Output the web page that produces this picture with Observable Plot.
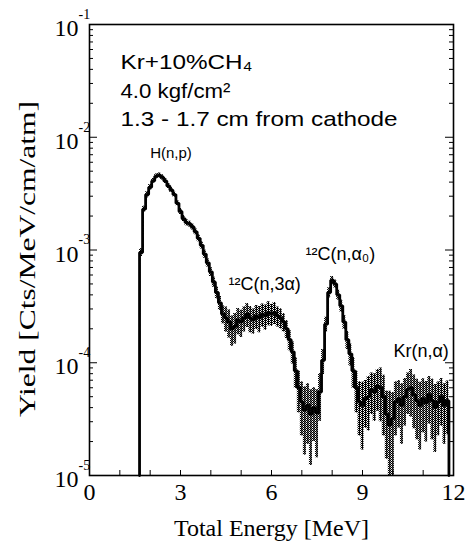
<!DOCTYPE html>
<html><head><meta charset="utf-8">
<script src="https://cdn.jsdelivr.net/npm/d3@7"></script>
<script src="https://cdn.jsdelivr.net/npm/@observablehq/plot@0.6"></script>
<style>body{margin:0;background:#fff} #chart svg{display:block}</style>
</head><body><div id="chart"></div>
<script>
// ---- data ----
const binCenters = [
  1.7,1.8,1.9,2.0,2.1,2.2,2.3,2.4,2.5,2.6,
  2.7,2.8,2.9,3.0,3.1,3.2,3.3,3.4,3.5,3.6,
  3.7,3.8,3.9,4.0,4.1,4.2,4.3,4.4,4.5,4.6,
  4.7,4.8,4.9,5.0,5.1,5.2,5.3,5.4,5.5,5.6,
  5.7,5.8,5.9,6.0,6.1,6.2,6.3,6.4,6.5,6.6,
  6.7,6.8,6.9,7.0,7.1,7.2,7.3,7.4,7.5,7.6,
  7.7,7.8,7.9,8.0,8.1,8.2,8.3,8.4,8.5,8.6,
  8.7,8.8,8.9,9.0,9.1,9.2,9.3,9.4,9.5,9.6,
  9.7,9.8,9.9,10.0,10.1,10.2,10.3,10.4,10.5,10.6,
  10.7,10.8,10.9,11.0,11.1,11.2,11.3,11.4,11.5,11.6,
  11.7,11.8];
const yieldValues = [
  9.5e-4,2.3e-3,3.1e-3,3.6e-3,4.1e-3,4.5e-3,4.6e-3,4.4e-3,4.1e-3,3.7e-3,
  3.4e-3,3.1e-3,2.6e-3,2.2e-3,1.9e-3,1.75e-3,1.7e-3,1.6e-3,1.45e-3,1.27e-3,
  1.1e-3,9.2e-4,7.7e-4,6.4e-4,5.2e-4,4.2e-4,3.4e-4,2.7e-4,2.5e-4,2.3e-4,
  2.0e-4,2.1e-4,2.4e-4,2.3e-4,2.5e-4,2.7e-4,2.5e-4,2.4e-4,2.6e-4,2.5e-4,
  2.7e-4,2.6e-4,2.8e-4,2.7e-4,2.8e-4,2.6e-4,2.5e-4,2.3e-4,2.0e-4,1.6e-4,
  1.25e-4,8.5e-5,6.0e-5,4.5e-5,3.8e-5,4.2e-5,3.5e-5,4.0e-5,3.6e-5,5.5e-5,
  1.05e-4,2.2e-4,4.2e-4,5.4e-4,5.0e-4,4.0e-4,3.2e-4,2.3e-4,1.6e-4,1.2e-4,
  8.5e-5,6.0e-5,4.5e-5,4.2e-5,4.8e-5,5.0e-5,5.8e-5,5.5e-5,6.2e-5,6.0e-5,
  5.0e-5,3.5e-5,2.8e-5,3.2e-5,4.5e-5,4.8e-5,4.2e-5,5.0e-5,5.8e-5,6.0e-5,
  5.2e-5,4.6e-5,4.2e-5,4.8e-5,4.4e-5,5.2e-5,4.6e-5,4.0e-5,4.5e-5,5.0e-5,
  4.2e-5,4.6e-5];
const relErrors = [
  0.08,0.06,0.06,0.06,0.05,0.05,0.05,0.05,0.05,0.05,
  0.05,0.05,0.05,0.06,0.06,0.06,0.06,0.06,0.06,0.07,
  0.07,0.08,0.08,0.09,0.10,0.12,0.14,0.18,0.25,0.28,
  0.30,0.30,0.26,0.27,0.25,0.24,0.26,0.25,0.24,0.26,
  0.23,0.25,0.24,0.22,0.22,0.20,0.20,0.18,0.18,0.20,
  0.22,0.30,0.40,0.50,0.60,0.55,0.65,0.50,0.60,0.45,
  0.25,0.15,0.10,0.08,0.08,0.10,0.12,0.14,0.18,0.22,
  0.30,0.40,0.50,0.60,0.45,0.50,0.40,0.45,0.40,0.50,
  0.55,0.60,1.00,0.70,0.50,0.45,0.55,0.45,0.40,0.45,
  0.50,0.55,0.60,0.50,0.55,0.45,0.55,0.60,0.50,0.45,
  0.55,0.50];
const binWidth = 0.1;
const xTickValues = [0,1,2,3,4,5,6,7,8,9,10,11,12];
const xTickLabels = [0,3,6,9,12];
const yDecades = [1e-5,1e-4,1e-3,1e-2,1e-1];
const yExponents = ["-5","-4","-3","-2","-1"];
const minorMultipliers = [2,3,4,5,6,7,8,9];
const infoLines = ["Kr+10%CH₄","4.0 kgf/cm²","1.3 - 1.7 cm from cathode"];
const peakLabels = ["H(n,p)","¹²C(n,3α)","¹²C(n,α₀)","Kr(n,α)"];
const peakLabelEnergy = [2.0, 4.58, 7.12, 10.02];
const peakLabelYield = [6.6e-3, 4.4e-4, 8.2e-4, 1.12e-4];
const xLabel = "Total Energy [MeV]";
const yLabel = "Yield [Cts/MeV/cm/atm]";

// ---- build ----
const yFloor = yDecades[0];
const bins = binCenters.map((e, i) => ({
  e, v: yieldValues[i],
  lo: Math.max(yFloor, yieldValues[i] * (1 - relErrors[i])),
  hi: yieldValues[i] * (1 + relErrors[i])
}));
const steps = [{x: bins[0].e - binWidth / 2, y: yFloor}];
for (const b of bins) {
  steps.push({x: b.e - binWidth / 2, y: b.v, lo: b.lo, hi: b.hi});
  steps.push({x: b.e + binWidth / 2, y: b.v, lo: b.lo, hi: b.hi});
}
steps.push({x: bins[bins.length - 1].e + binWidth / 2, y: yFloor});
const band = steps.filter(d => d.lo !== undefined);
const minorTicks = yDecades.slice(0, -1).flatMap(d => minorMultipliers.map(m => d * m));
const peaks = peakLabels.map((t, i) => ({t, e: peakLabelEnergy[i], y: peakLabelYield[i]}));

const serif = "Liberation Serif, Times New Roman, serif";
const sans = "Liberation Sans, Arial, Helvetica, sans-serif";
const infoBaselines = [44, 73, 101];   // px below the frame top
const infoWidths = [132, 110, 277];    // rendered widths in px

const chart = Plot.plot({
  width: 472, height: 545,
  marginLeft: 89, marginRight: 19, marginTop: 24, marginBottom: 70,
  x: {domain: [0, 12], axis: null},
  y: {type: "log", domain: [1e-5, 1e-1], axis: null},
  style: {background: "white"},
  marks: [
    Plot.areaY(band, {x: "x", y1: "lo", y2: "hi", fill: "url(#chk)"}),
    Plot.ruleX(bins, {x: "e", y1: "lo", y2: "hi", stroke: "black", strokeWidth: 1.1}),
    Plot.line(steps, {x: "x", y: "y", stroke: "black", strokeWidth: 2.8, strokeLinejoin: "miter"}),
    // ticks
    Plot.ruleX(xTickValues, {x: d => d, y1: yFloor, y2: yFloor, insetTop: -5, stroke: "black"}),
    Plot.ruleY(yDecades, {y: d => d, x1: 0, x2: 0, insetRight: -8, stroke: "black"}),
    Plot.ruleY(yDecades, {y: d => d, x1: 12, x2: 12, insetLeft: -8, stroke: "black"}),
    Plot.ruleY(minorTicks, {y: d => d, x1: 0, x2: 0, insetRight: -4, stroke: "black"}),
    Plot.ruleY(minorTicks, {y: d => d, x1: 12, x2: 12, insetLeft: -4, stroke: "black"}),
    Plot.frame({stroke: "black", strokeWidth: 1.6}),
    // tick labels
    Plot.text(xTickLabels, {x: d => d, y: yFloor, text: d => String(d), dy: 17, lineAnchor: "middle", fontSize: 24, fontFamily: serif, fill: "black"}),
    Plot.text(yDecades, {x: 0, y: d => d, text: () => "10", dx: -11, dy: 4, textAnchor: "end", lineAnchor: "middle", fontSize: 24, fontFamily: serif, fill: "black"}),
    Plot.text(yDecades, {x: 0, y: d => d, text: (d, i) => yExponents[i], dx: -11, dy: -10, textAnchor: "start", lineAnchor: "middle", fontSize: 14, fontFamily: serif, fill: "black"}),
    // axis labels
    Plot.text([xLabel], {frameAnchor: "bottom", dy: 53, lineAnchor: "middle", fontSize: 24, fontFamily: serif, fill: "black"}),
    Plot.text([yLabel], {frameAnchor: "left", dx: -62, dy: 167, rotate: -90, textAnchor: "start", lineAnchor: "middle", fontSize: 24, fontFamily: serif, fill: "black"}),
    // annotations
    ...infoLines.map((line, i) => Plot.text([line], {frameAnchor: "top-left", dx: 31, dy: infoBaselines[i], lineAnchor: "bottom", textAnchor: "start", fontSize: 21, fontFamily: sans, fill: "black"})),
    Plot.text(peaks.slice(0, 1), {x: "e", y: "y", text: "t", textAnchor: "start", lineAnchor: "bottom", fontSize: 15, fontFamily: sans, fill: "black"}),
    Plot.text(peaks.slice(1), {x: "e", y: "y", text: "t", textAnchor: "start", lineAnchor: "bottom", fontSize: 18, fontFamily: sans, fill: "black"})
  ]
});

const svg = d3.select(chart);
svg.insert("defs", ":first-child").html(
  '<pattern id="chk" width="2" height="2" patternUnits="userSpaceOnUse">' +
  '<rect width="2" height="2" fill="white"/><rect width="1" height="1" fill="black"/>' +
  '<rect x="1" y="1" width="1" height="1" fill="black"/></pattern>');
svg.selectAll("text").each(function() {
  const t = this.textContent;
  if (t === yLabel) d3.select(this).attr("textLength", 316).attr("lengthAdjust", "spacingAndGlyphs");
  const k = infoLines.indexOf(t);
  if (k >= 0) d3.select(this).attr("textLength", infoWidths[k]).attr("lengthAdjust", "spacingAndGlyphs");
});
document.getElementById("chart").append(chart);
</script>
</body></html>
